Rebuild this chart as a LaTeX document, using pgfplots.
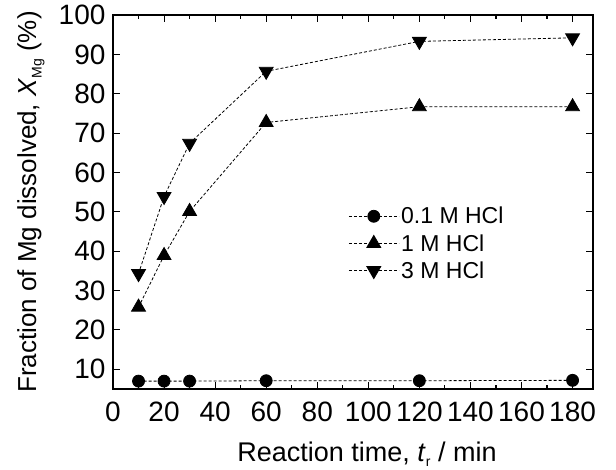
\documentclass[border=0pt]{standalone}
\usepackage{pgfplots}
\pgfplotsset{compat=1.18}
\usepackage{fontspec}
\setmainfont{Liberation Sans}
\pgfplotstableread{
t X
10 7.0
20 7.0
30 7.0
60 7.1
120 7.1
180 7.2
}\lowacid
\pgfplotstableread{
t X
10 25.8
20 38.9
30 50.1
60 72.7
120 76.7
180 76.7
}\midacid
\pgfplotstableread{
t X
10 34.3
20 53.9
30 67.4
60 85.7
120 93.3
180 94.2
}\highacid
\begin{document}
\begin{tikzpicture}
\begin{axis}[
  scale only axis,
  width=480pt, height=374pt,
  xmin=0, xmax=188, ymin=5, ymax=100,
  xtick={0,20,...,180}, ytick={10,20,...,100},
  minor x tick num=1,
  tick align=inside,
  major tick length=7pt, minor tick length=4pt,
  axis line style={line width=1.3pt},
  every tick/.style={line width=1.1pt, black},
  /pgf/number format/assume math mode=true,
  ticklabel style={font=\fontsize{28}{30}\selectfont},
  xticklabel style={yshift=-9pt},
  yticklabel style={xshift=-4pt},
  every axis x label/.style={at={(rel axis cs:0.5,0)}, anchor=north, yshift=-49pt, xshift=14pt, font=\fontsize{27}{30}\selectfont},
  every axis y label/.style={at={(rel axis cs:0,0.5)}, anchor=center, xshift=-82pt, rotate=90, font=\fontsize{26}{29}\selectfont},
  xlabel={Reaction time, \textit{t}\raisebox{-0.35ex}{\fontsize{14}{14}\selectfont r} / min},
  ylabel={Fraction of Mg dissolved, \textit{X}\raisebox{-0.4ex}{\fontsize{14}{14}\selectfont Mg} (\%)},
  legend style={draw=none, fill=none, at={(rel axis cs:0.49,0.492)}, anchor=north west,
    font=\fontsize{23}{25}\selectfont, row sep=5pt, inner sep=0pt},
  legend cell align=left,
  legend image code/.code={\draw[mark repeat=2,mark phase=2,#1] plot coordinates {(0pt,0pt) (25pt,0pt) (50pt,0pt)};},
  every axis plot/.append style={black, line width=0.8pt, dash pattern=on 3pt off 2pt},
]
\addplot[mark=*, mark size=6pt, mark options={solid}] table[x=t,y=X] {\lowacid};
\addlegendentry{0.1 M HCl}
\addplot[mark=triangle*, mark size=8pt, mark options={solid}] table[x=t,y=X] {\midacid};
\addlegendentry{1 M HCl}
\addplot[mark=triangle*, mark size=8pt, mark options={solid, rotate=180}] table[x=t,y=X] {\highacid};
\addlegendentry{3 M HCl}
\end{axis}
\pgfresetboundingbox
\path[use as bounding box] (current axis.south west) ++(-113pt,-81pt) rectangle ++(616pt,470pt);
\end{tikzpicture}
\end{document}
